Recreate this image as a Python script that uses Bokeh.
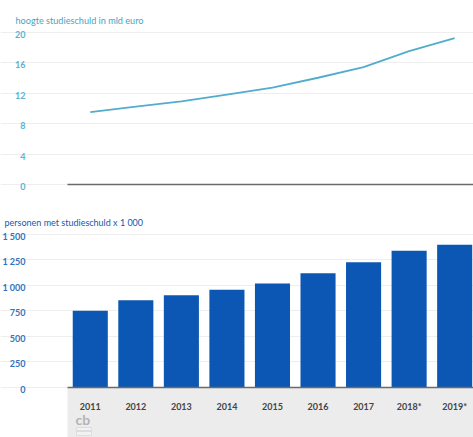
from bokeh.embed import file_html
from bokeh.layouts import column
from bokeh.models import BoxAnnotation, FixedTicker, Label, Range1d
from bokeh.plotting import figure
from bokeh.resources import INLINE

years = ["2011", "2012", "2013", "2014", "2015", "2016", "2017", "2018*", "2019*"]
debt_billion = [9.5, 10.2, 10.9, 11.8, 12.7, 14.0, 15.4, 17.5, 19.2]
debtors_thousand = [750, 854, 903, 956, 1018, 1120, 1228, 1339, 1398]
debt_ticks = [0, 4, 8, 12, 16, 20]
debt_tick_labels = ["0", "4", "8", "12", "16", "20"]
debtor_ticks = [0, 250, 500, 750, 1000, 1250, 1500]
debtor_tick_labels = ["0", "250", "500", "750", "1 000", "1 250", "1 500"]

FONT = "Lato"
WIDTH = 473
STEP = 45.55       # pixels per year
PLOT_LEFT = 67     # pixel where the axes start
LABEL_DROP = 2     # tick labels sit this many pixels below their gridline
positions = list(range(len(years)))
x_start = -0.5 - PLOT_LEFT / STEP
x_end = x_start + WIDTH / STEP
plot_right = x_end


def panel(height, zero_px, top_px, y_top, ticks, tick_labels, tick_color):
    """A figure whose frame fills the canvas, with its axes placed inside the frame."""
    scale = (zero_px - top_px) / y_top
    y_low = -(height - zero_px) / scale
    y_high = y_top + top_px / scale
    shift = LABEL_DROP / scale
    p = figure(width=WIDTH, height=height, output_backend="svg", toolbar_location=None,
               x_range=Range1d(x_start, x_end), y_range=Range1d(y_low, y_high),
               min_border_left=0, min_border_right=0, min_border_top=0, min_border_bottom=0)
    p.extra_y_ranges = {"labels": Range1d(y_low + shift, y_high + shift)}
    p.outline_line_color = None
    p.xgrid.visible = False
    p.ygrid.grid_line_color = "#eeeeee"
    p.ygrid.grid_line_width = 1
    p.ygrid.ticker = FixedTicker(ticks=ticks)
    p.ygrid.bounds = (-0.5, plot_right)
    ya = p.yaxis[0]
    ya.y_range_name = "labels"
    ya.fixed_location = -0.5
    ya.ticker = FixedTicker(ticks=ticks)
    ya.major_label_overrides = dict(zip(ticks, tick_labels))
    ya.axis_line_color = None
    ya.major_tick_line_color = None
    ya.minor_tick_line_color = None
    ya.major_tick_out = 0
    ya.major_label_standoff = 42
    ya.major_label_text_color = tick_color
    ya.major_label_text_font = FONT
    ya.major_label_text_font_size = "9px"
    ya.major_label_text_font_style = "bold"
    xa = p.xaxis[0]
    xa.fixed_location = 0
    xa.bounds = (-0.5, plot_right)
    xa.axis_line_color = "#6a6a6a"
    xa.axis_line_width = 1.6
    xa.major_tick_line_color = None
    xa.minor_tick_line_color = None
    xa.major_tick_out = 0
    xa.ticker = FixedTicker(ticks=positions)
    return p


# Upper panel: total debt as a line
top_panel = panel(205, 184, 31.5, 20, debt_ticks, debt_tick_labels, "#58b4d1")
top_panel.xaxis[0].major_label_text_color = None
top_panel.line(positions, debt_billion, line_color="#52adcc", line_width=1.8)
top_panel.add_layout(Label(x=15, y=180, x_units="screen", y_units="screen",
                           text="hoogte studieschuld in mld euro", text_color="#3fa5c6",
                           text_font=FONT, text_font_size="9.15px"))

# Lower panel: number of debtors as bars, with a grey footer behind the year labels
bottom_panel = panel(232, 181.5, 29, 1500, debtor_ticks, debtor_tick_labels, "#2f74c0")
bottom_panel.add_layout(BoxAnnotation(left=-0.5, bottom_units="screen", bottom=0, top=0,
                                      fill_color="#ececec", fill_alpha=1, line_color=None,
                                      level="underlay"))
bottom_panel.vbar(x=positions, top=debtors_thousand, width=0.77, bottom=0,
                  fill_color="#0b57b3", line_color=None)
xa = bottom_panel.xaxis[0]
xa.major_label_overrides = dict(zip(positions, years))
xa.major_label_standoff = 14
xa.major_label_text_color = "#444444"
xa.major_label_text_font = FONT
xa.major_label_text_font_size = "9px"
xa.major_label_text_font_style = "bold"
bottom_panel.add_layout(Label(x=4, y=210, x_units="screen", y_units="screen",
                              text="personen met studieschuld x 1 000", text_color="#1259ad",
                              text_font=FONT, text_font_size="9px"))

# Publisher's mark in the footer
LOGO = "#b4b4b4"
bottom_panel.add_layout(Label(x=75, y=10, x_units="screen", y_units="screen", text="cb",
                              text_color=LOGO, text_font=FONT, text_font_size="14px",
                              text_font_style="bold"))
for low, high in [(7, 10), (2, 6)]:
    bottom_panel.add_layout(BoxAnnotation(left=76, right=91, bottom=low, top=high,
                                          left_units="screen", right_units="screen",
                                          bottom_units="screen", top_units="screen",
                                          fill_color="#f2f2f2", fill_alpha=1,
                                          line_color=LOGO, line_width=1))

page = column(top_panel, bottom_panel, spacing=0)
open("out.html", "w").write(file_html(page, INLINE))
